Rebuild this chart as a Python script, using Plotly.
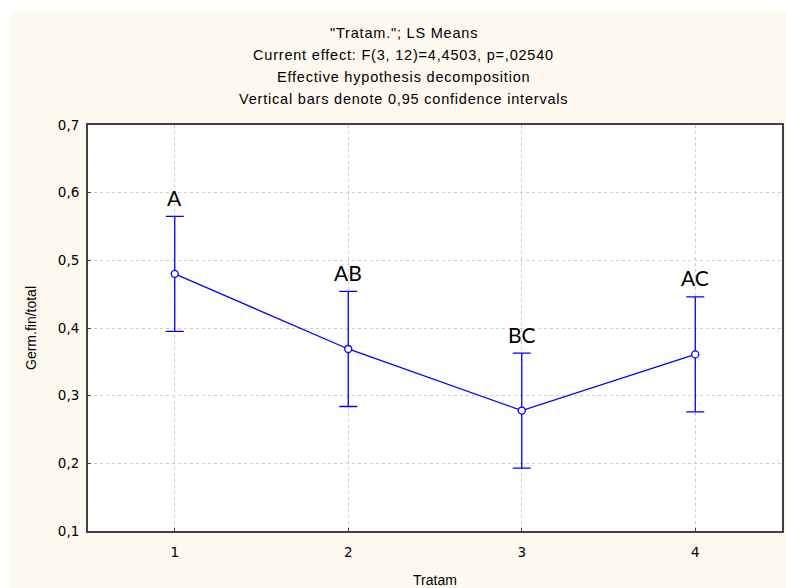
import plotly.graph_objects as go

# LS means of germination ratio by treatment, with 0.95 confidence limits
treatments = [1, 2, 3, 4]
ls_means = [0.480, 0.369, 0.278, 0.361]
ci_upper = [0.565, 0.454, 0.363, 0.446]
ci_lower = [0.395, 0.284, 0.193, 0.276]
group_letters = ["A", "AB", "BC", "AC"]

y_ticks = [0.1, 0.2, 0.3, 0.4, 0.5, 0.6, 0.7]
x_ticks = [1, 2, 3, 4]

title_lines = [
    '"Tratam."; LS Means',
    "Current effect: F(3, 12)=4,4503, p=,02540",
    "Effective hypothesis decomposition",
    "Vertical bars denote 0,95 confidence intervals",
]

BLUE = "#0000ff"
CREAM = "#fdf9ee"
AXIS = "#404040"
GRID = "#cccccc"
FONT = "Liberation Sans, Arial, sans-serif"
WIDE = "DejaVu Sans, sans-serif"

err_plus = [u - m for u, m in zip(ci_upper, ls_means)]
err_minus = [m - l for m, l in zip(ls_means, ci_lower)]

fig = go.Figure()
fig.add_trace(go.Scatter(
    x=treatments,
    y=ls_means,
    mode="lines+markers",
    line=dict(color=BLUE, width=1.3),
    marker=dict(symbol="circle", size=7, color="white",
                line=dict(color=BLUE, width=1.3)),
    error_y=dict(type="data", symmetric=False, array=err_plus,
                 arrayminus=err_minus, color=BLUE, thickness=1.3, width=9),
    showlegend=False,
))

# significance-group letters above each upper confidence limit
for x, top, txt in zip(treatments, ci_upper, group_letters):
    fig.add_annotation(x=x, y=top, text=txt, showarrow=False,
                       yanchor="middle", yshift=19,
                       font=dict(family="Lato, Open Sans, sans-serif",
                                 size=21, color="black"))

# stacked chart heading, one line per annotation, slightly tracked out
for i, line in enumerate(title_lines):
    fig.add_annotation(xref="paper", yref="paper", x=0.455, y=1.0,
                       text=f'<span style="letter-spacing:0.8px">{line}</span>',
                       showarrow=False, xanchor="center",
                       yanchor="middle", yshift=92 - 22 * i,
                       font=dict(family=FONT, size=14.5, color="black"))

# white strips around the cream panel
fig.add_shape(type="rect", xref="paper", yref="paper",
              x0=-0.2, x1=1.1, y0=(533 - 12) / 408, y1=1.4,
              fillcolor="white", line=dict(width=0), layer="below")
fig.add_shape(type="rect", xref="paper", yref="paper",
              x0=-0.2, x1=(10 - 88) / 696, y0=-0.3, y1=1.4,
              fillcolor="white", line=dict(width=0), layer="below")

fig.update_xaxes(
    range=[0.5, 4.5], tickmode="array", tickvals=x_ticks,
    showline=True, linecolor=AXIS, linewidth=2, mirror=True,
    showgrid=True, gridcolor=GRID, griddash="dot", gridwidth=1,
    ticks="inside", ticklen=3, tickcolor=AXIS,
    zeroline=False, ticklabelstandoff=8,
    tickfont=dict(family=WIDE, size=13.5, color="black"),
    title=dict(text="Tratam", standoff=16,
               font=dict(family=FONT, size=14, color="black")),
)
fig.update_yaxes(
    range=[0.1, 0.7], tickmode="array", tickvals=y_ticks, tickformat=".1f",
    showline=True, linecolor=AXIS, linewidth=2, mirror=True,
    showgrid=True, gridcolor=GRID, griddash="dot", gridwidth=1,
    ticks="inside", ticklen=3, tickcolor=AXIS,
    zeroline=False, ticklabelstandoff=4,
    tickfont=dict(family=WIDE, size=13.5, color="black"),
    title=dict(text="Germ.fin/total", standoff=18,
               font=dict(family=FONT, size=14, color="black")),
)

fig.update_layout(
    width=786, height=588,
    margin=dict(l=88, r=2, t=125, b=55),
    paper_bgcolor=CREAM,
    plot_bgcolor="white",
    separators=", ",
)

fig.write_html("out.html")
